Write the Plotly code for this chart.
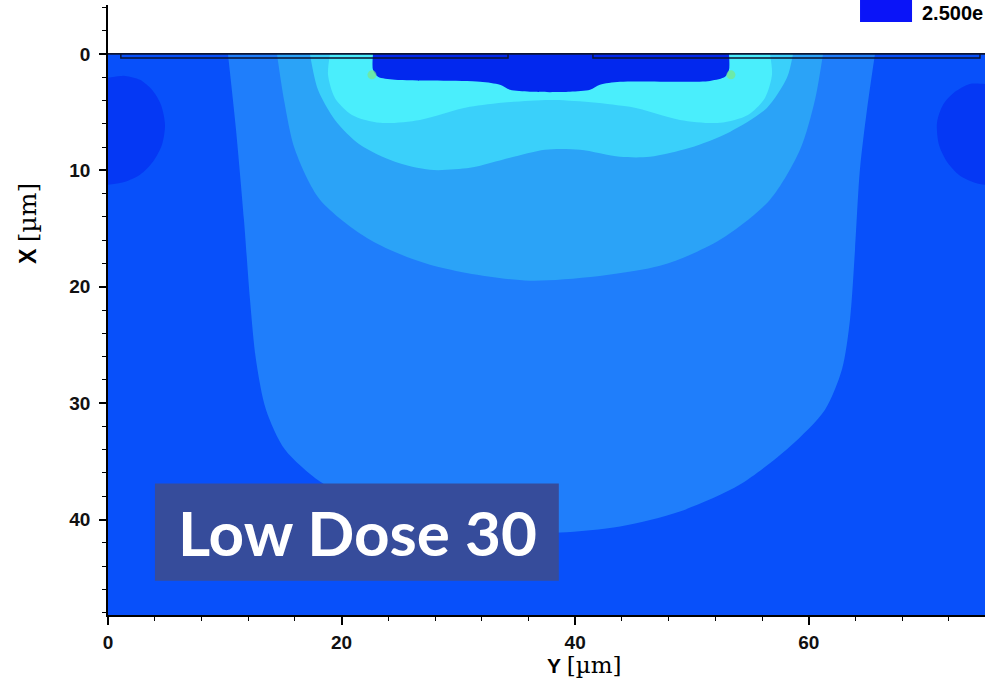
import plotly.graph_objects as go

# ---------------- data: region boundaries in device coordinates (Y [µm], X [µm]) -------------
bg_y = [0, 77, 77, 0]
bg_x = [0, 0, 49, 49]

# darker side pockets
lpock_y = [0, 1.46, 2.74, 3.77, 4.54, 4.88, 4.62, 3.85, 2.74, 1.46, 0]
lpock_x = [2.06, 1.89, 2.23, 3.09, 4.38, 6.09, 7.81, 9.27, 10.39, 10.99, 11.24]
rpock_y = [77, 75.09, 73.80, 72.52, 71.49, 70.98, 71.15, 71.83, 72.95, 74.23, 75.09, 77]
rpock_x = [2.58, 2.58, 2.58, 3.26, 4.38, 5.92, 7.81, 9.27, 10.47, 11.07, 11.24, 11.24]

# level 2: deep U-shaped region
u_y = [10.27, 10.96, 11.64, 12.16, 12.67, 13.53, 15.15, 18.15, 22.43, 27.57, 33.56, 38.70,
       43.84, 48.97, 54.11, 58.39, 61.39, 62.84, 63.53, 63.96, 64.38, 64.98, 65.67]
u_x = [0, 6.52, 14.25, 21.12, 26.27, 30.56, 33.99, 36.74, 38.97, 40.43, 41.03, 41.12,
       40.60, 39.31, 37.00, 33.73, 30.56, 27.12, 22.83, 16.82, 9.96, 4.81, 0]

# level 3: bowl
bowl_y = [14.47, 15.07, 16.01, 18.15, 22.43, 27.57, 36.13, 47.26, 52.40, 56.68, 59.25, 60.53, 61.22]
bowl_x = [0, 3.95, 8.24, 12.53, 15.97, 18.11, 19.48, 18.20, 15.97, 12.53, 8.24, 3.95, 0]

# level 4: shallow wavy region
l4_y = [17.29, 17.98, 19.43, 21.58, 24.57, 27.57, 30.99, 34.42, 37.41, 40.41, 43.84,
        46.40, 49.83, 53.25, 56.42, 58.13, 58.65]
l4_x = [0, 3.09, 5.67, 7.81, 9.27, 9.96, 9.79, 8.93, 8.24, 8.24, 8.84,
        8.84, 8.07, 6.70, 4.64, 2.06, 0]

# level 5: band under the electrodes with lobes at the edges
l5_y = [19.01, 18.84, 19.43, 20.89, 23.29, 26.71, 30.99, 37.84, 44.69, 48.97, 52.40,
        54.79, 56.25, 56.85, 56.68]
l5_x = [0, 1.80, 3.78, 5.24, 5.92, 5.67, 4.55, 3.95, 4.55, 5.67, 5.92,
        5.24, 3.78, 1.80, 0]

# dark region under the electrodes
el_y = [22.69, 22.69, 23.12, 24.57, 31.85, 33.56, 34.42, 36.13, 39.55, 41.27, 42.12,
        43.84, 51.54, 52.83, 53.17, 53.17]
el_x = [0, 1.37, 1.97, 2.23, 2.40, 2.66, 3.09, 3.26, 3.26, 3.09, 2.66,
        2.40, 2.32, 1.97, 1.37, 0]

# hot spots at electrode corners
spot_y = [22.60, 53.34]
spot_x = [1.80, 1.80]

# oxide / surface lines
ox_top_y = [0, 77]
ox_top_x = [0, 0]
ox_l_y = [1.1, 1.1, 34.25, 34.25]
ox_l_x = [0, 0.35, 0.35, 0]
ox_r_y = [41.52, 41.52, 74.66, 74.66]
ox_r_x = [0, 0.35, 0.35, 0]

cap_y = [0, 77, 77, 0]
cap_x = [-6, -6, 0, 0]

x_ticks = [0, 20, 40, 60]
y_ticks = [0, 10, 20, 30, 40]

label_text = "Low Dose 30"
legend_text = "2.500e"

# ---------------- figure --------------------------------------------------------------------
fig = go.Figure()


def region(xs, ys, color, smooth=True):
    fig.add_trace(go.Scatter(
        x=xs, y=ys, mode="lines", fill="toself", fillcolor=color,
        line=dict(width=0, color=color, shape="spline" if smooth else "linear", smoothing=0.8),
        hoverinfo="skip", showlegend=False))


region(bg_y, bg_x, "#0850FA", smooth=False)
region(lpock_y, lpock_x, "#0538F4")
region(rpock_y, rpock_x, "#0538F4")
region(u_y, u_x, "#1F7EFB")
region(bowl_y, bowl_x, "#2BA3F7")
region(l4_y, l4_x, "#3AD0FA")
region(l5_y, l5_x, "#4AEEFC")
region(el_y, el_x, "#0228EE")

fig.add_trace(go.Scatter(x=spot_y, y=spot_x, mode="markers",
                         marker=dict(size=9, color="#7BE884", opacity=0.7, line=dict(width=0)),
                         hoverinfo="skip", showlegend=False))

region(cap_y, cap_x, "white", smooth=False)

for xs, ys, w in [(ox_top_y, ox_top_x, 1.6), (ox_l_y, ox_l_x, 1.4), (ox_r_y, ox_r_x, 1.4)]:
    fig.add_trace(go.Scatter(x=xs, y=ys, mode="lines",
                             line=dict(color="#0c1533", width=w),
                             hoverinfo="skip", showlegend=False))

tickfont = dict(family="Liberation Sans", size=19, color="#111111", weight="bold")

fig.update_layout(
    width=985, height=681,
    margin=dict(l=108, r=0, t=5, b=66),
    paper_bgcolor="white", plot_bgcolor="white",
    xaxis=dict(range=[0, 75.09], tickvals=x_ticks, ticks="outside", ticklen=8, tickwidth=1.5,
               tickcolor="black", showline=True, linecolor="black", linewidth=1.5,
               showgrid=False, zeroline=False, tickfont=tickfont, ticklabelstandoff=1,
               minor=dict(dtick=4, tick0=0, ticks="outside", ticklen=4, tickwidth=1.2,
                          tickcolor="black", showgrid=False)),
    yaxis=dict(range=[48.2, -4.2], tickvals=y_ticks, ticks="outside", ticklen=7, tickwidth=1.5,
               tickcolor="black", showline=True, linecolor="black", linewidth=1.5,
               showgrid=False, zeroline=False, tickfont=tickfont, ticklabelstandoff=5,
               minor=dict(dtick=2, tick0=0, ticks="outside", ticklen=4, tickwidth=1.2,
                          tickcolor="black", showgrid=False)),
    shapes=[
        dict(type="rect", xref="x", yref="y", x0=4.02, x1=38.6, y0=36.9, y1=45.25,
             fillcolor="#364C9B", line=dict(width=0), layer="above"),
        dict(type="rect", xref="paper", yref="paper", x0=0.8575, x1=0.9168, y0=0.9721, y1=1.02,
             fillcolor="#0A14F8", line=dict(width=0), layer="above"),
    ],
    annotations=[
        dict(xref="x", yref="y", x=21.32, y=41.07, text=label_text, showarrow=False,
             font=dict(family="Lato", size=62, color="white", weight="bold"),
             xanchor="center", yanchor="middle"),
        dict(xref="paper", yref="paper", x=0.5428, y=-0.082,
             text='<b>Y</b> <span style="font-family:DejaVu Serif;font-size:23px">[µm]</span>',
             showarrow=False, font=dict(family="Liberation Sans", size=21, color="black"),
             xanchor="center", yanchor="middle"),
        dict(xref="paper", yref="paper", x=-0.0912, y=0.641, textangle=-90,
             text='<b>X</b> <span style="font-family:DejaVu Serif;font-size:25px">[µm]</span>',
             showarrow=False, font=dict(family="Liberation Sans", size=23, color="black"),
             xanchor="center", yanchor="middle"),
        dict(xref="paper", yref="paper", x=0.9259, y=0.9869, text="<b>" + legend_text + "</b>",
             showarrow=False, font=dict(family="Liberation Sans", size=20, color="black"),
             xanchor="left", yanchor="middle"),
    ],
)

fig.write_html("out.html")
